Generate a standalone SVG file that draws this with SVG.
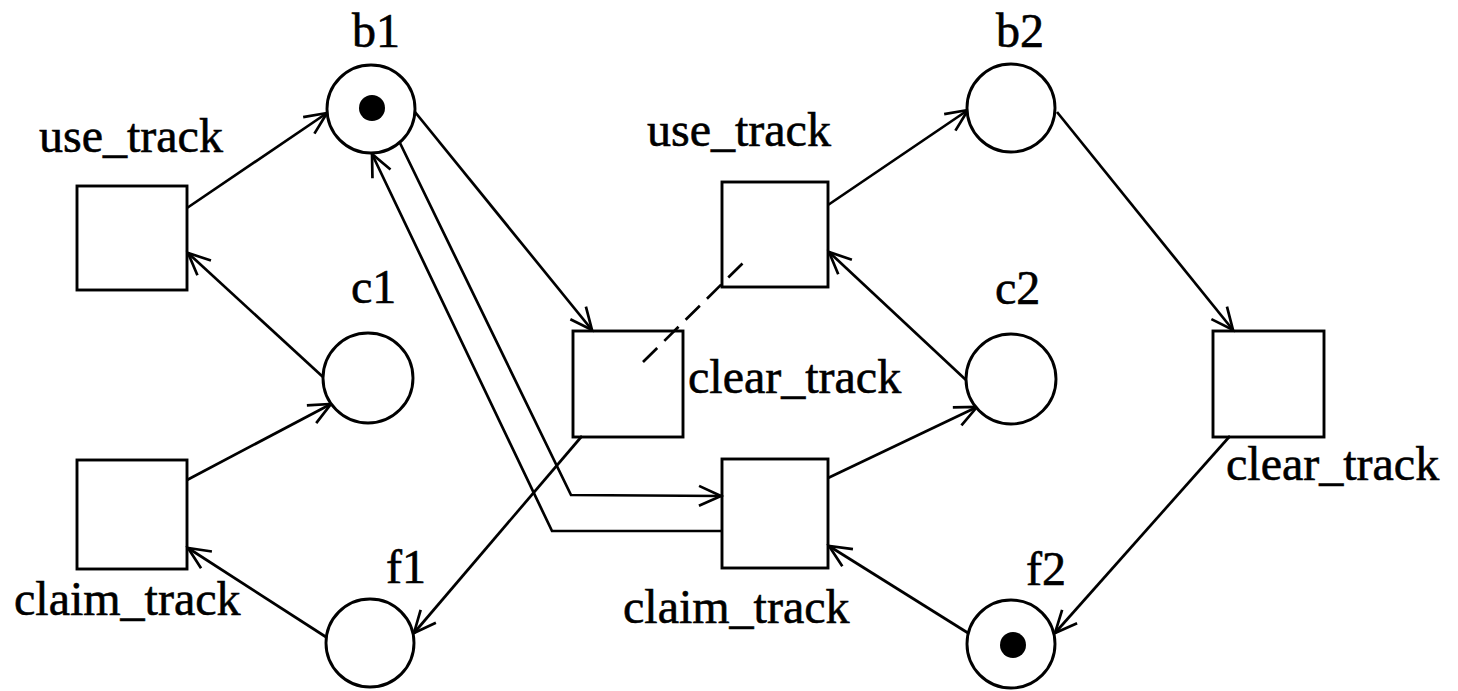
<svg xmlns="http://www.w3.org/2000/svg" width="1458" height="691" viewBox="0 0 1458 691">
<style>
.pl{fill:#fff;stroke:#000;stroke-width:2.9}
.tr{fill:none;stroke:#000;stroke-width:2.9}
.tok{fill:#000;stroke:none}
.lb{font-family:"Liberation Serif","Times New Roman",serif;font-size:48px;fill:#000;stroke:#000;stroke-width:0.6}
.arc{fill:none;stroke:#000;stroke-width:2.7;marker-end:url(#ah)}
.dash{fill:none;stroke:#000;stroke-width:2.7;stroke-dasharray:20 10}
</style>
<defs>
<marker id="ah" markerUnits="userSpaceOnUse" orient="auto" markerWidth="30" markerHeight="30" viewBox="-26 -15 30 30" refX="0" refY="0" overflow="visible">
<path d="M-22,-10 L0,0 L-22,10" fill="none" stroke="#000" stroke-width="2.7"/>
</marker>
</defs>
<g id="connectors">
<path class="arc" d="M187,208 L327,113"/>
<path class="arc" d="M323,377 L188,253"/>
<path class="arc" d="M187,480 L331,404"/>
<path class="arc" d="M326,637 L188,548"/>
<path class="arc" d="M415,112 L592,330"/>
<path class="arc" d="M582,436 L414,633"/>
<path class="arc" d="M400,143 L571,495 L721,496"/>
<path class="arc" d="M722,531 L552,531 L372,154"/>
<path class="arc" d="M828,205 L968,110"/>
<path class="arc" d="M966,380 L829,252"/>
<path class="arc" d="M828,478 L977,407"/>
<path class="arc" d="M968,633 L829,546"/>
<path class="arc" d="M1057,112 L1233,330"/>
<path class="arc" d="M1230,436 L1055,633"/>
<path class="dash" d="M643,362 L745,261"/>
</g>
<g id="b1"><circle class="pl" cx="371" cy="109" r="44"/><circle class="tok" cx="372" cy="108" r="13"/><text class="lb" x="352" y="47">b1</text></g>
<g id="c1"><circle class="pl" cx="368" cy="378" r="45"/><text class="lb" x="351" y="303">c1</text></g>
<g id="f1"><circle class="pl" cx="370" cy="643" r="44"/><text class="lb" x="386" y="583">f1</text></g>
<g id="b2"><circle class="pl" cx="1011" cy="108" r="44"/><text class="lb" x="996" y="47">b2</text></g>
<g id="c2"><circle class="pl" cx="1011" cy="379" r="45"/><text class="lb" x="995" y="304">c2</text></g>
<g id="f2"><circle class="pl" cx="1011" cy="644" r="44"/><circle class="tok" cx="1013" cy="645" r="13"/><text class="lb" x="1026" y="585">f2</text></g>
<g id="use_track1"><rect class="tr" x="77" y="186" width="110" height="104"/><text class="lb" x="39" y="152">use_track</text></g>
<g id="claim_track1"><rect class="tr" x="77" y="460" width="110" height="109"/><text class="lb" x="14" y="615">claim_track</text></g>
<g id="clear_track1"><rect class="tr" x="573" y="331" width="110" height="106"/><text class="lb" x="688" y="393">clear_track</text></g>
<g id="use_track2"><rect class="tr" x="722" y="182" width="106" height="105"/><text class="lb" x="647" y="146">use_track</text></g>
<g id="claim_track2"><rect class="tr" x="722" y="459" width="106" height="109"/><text class="lb" x="623" y="623">claim_track</text></g>
<g id="clear_track2"><rect class="tr" x="1213" y="331" width="111" height="106"/><text class="lb" x="1226" y="480">clear_track</text></g>
</svg>
